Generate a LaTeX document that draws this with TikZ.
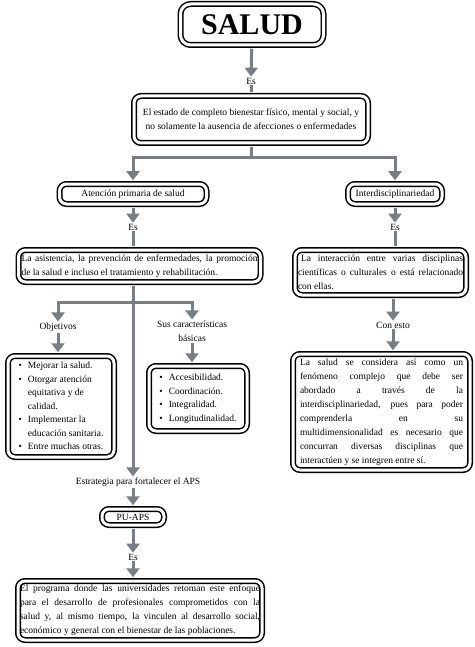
\documentclass[tikz,border=0pt]{standalone}
\usepackage{fontspec}
\setmainfont{Liberation Serif}
\usepackage{tikz}
\usetikzlibrary{positioning, arrows.meta}
\definecolor{grisFlecha}{RGB}{120,126,133}
\tikzstyle{Caja} = [rectangle, rounded corners=7pt, draw=black, line width=1.5pt, double=white, double distance=3pt, inner sep=3pt, font=\fontsize{9.5}{14}\selectfont]
\tikzstyle{Lista} = [Caja, font=\fontsize{9.5}{13.5}\selectfont]
\tikzstyle{Texto} = [inner sep=1pt, align=center, font=\fontsize{9.5}{14}\selectfont]
\tikzstyle{Flecha} = [draw=grisFlecha, line width=3pt, -{Triangle[length=9pt, width=13pt]}]
\tikzstyle{Linea} = [draw=grisFlecha, line width=3pt]

\begin{document}
\begin{tikzpicture}[x=1pt, y=-1pt]
    \useasboundingbox (0,0) rectangle (474,647);

    %%%%%%%%%%%%%%%%%%%%%%
    \node[Caja, rounded corners=10pt, minimum width=143pt, minimum height=41pt, font=\fontsize{30}{32}\selectfont\bfseries] (salud) at (252,24.5) {SALUD};
    \node[Texto] (es1) at (251,81) {Es};
    \node[Caja, align=center, minimum width=234pt, minimum height=47pt] (estado) at (251,119.5) {El estado de completo bienestar físico, mental y social, y\\ no solamente la ausencia de afecciones o enfermedades};
    \coordinate (rama1) at (251,158);

    \draw[Flecha, shorten <=3pt] (salud) to (es1);
    \draw[Linea, shorten >=3pt] (es1) to (estado);
    \draw[Linea, shorten <=3pt] (estado) to (rama1);

    %%%%%%%%%%%%%%%%%%%%%%
    \node[Caja, minimum width=147pt, minimum height=20pt] (aps) at (133,194) {Atención primaria de salud};
    \node[Caja, minimum width=94pt, minimum height=20pt] (inter) at (395,194) {Interdisciplinariedad};
    \node[Texto] (es2) at (133,227) {Es};
    \node[Texto] (es3) at (395,227) {Es};

    \draw[Flecha, shorten >=3pt] (rama1) -| (aps);
    \draw[Flecha, shorten >=3pt] (rama1) -| (inter);
    \draw[Flecha, shorten <=3pt] (aps) to (es2);
    \draw[Flecha, shorten <=3pt] (inter) to (es3);

    %%%%%%%%%%%%%%%%%%%%%%
    \node[Caja, text width=236pt, align=justify, minimum height=32pt] (asist) at (139.5,266) {La asistencia, la prevención de enfermedades, la promoción\linebreak de la salud e incluso el tratamiento y rehabilitación.};
    \node[Caja, text width=165pt, align=justify, minimum height=45pt] (interac) at (380.5,272.5) {\hspace{3pt}La interacción entre varias disciplinas\linebreak científicas o culturales o está relacionado\linebreak con ellas.};

    \draw[Linea, shorten >=3pt] (es2) to (es2 |- asist.north);
    \draw[Linea, shorten >=3pt] (es3) to (es3 |- interac.north);

    %%%%%%%%%%%%%%%%%%%%%%
    \coordinate (rama2) at (133,302);
    \node[Texto] (objetivos) at (58,327) {Objetivos};
    \node[Texto] (caract) at (192,331) {Sus características\\básicas};
    \node[Lista, minimum width=106pt, minimum height=101pt] (objbox) at (61,406.5) {%
        \begin{tabular}{@{}c@{\hspace{6pt}}l@{}}
        \textbullet & Mejorar la salud.\\
        \textbullet & Otorgar atención\\
         & equitativa y de\\
         & calidad.\\
        \textbullet & Implementar la\\
         & educación sanitaria.\\
        \textbullet & Entre muchas otras.
        \end{tabular}};
    \node[Lista, minimum width=98pt, minimum height=65pt] (carbox) at (198,398.5) {%
        \begin{tabular}{@{}c@{\hspace{6pt}}l@{}}
        \textbullet & Accesibilidad.\\
        \textbullet & Coordinación.\\
        \textbullet & Integralidad.\\
        \textbullet & Longitudinalidad.
        \end{tabular}};

    \draw[Linea, shorten <=3pt] (asist.south -| rama2) to (rama2);
    \draw[Flecha] (rama2) -| (objetivos);
    \draw[Flecha] (rama2) -| (caract);
    \draw[Flecha, shorten >=3pt] (objetivos) to (objetivos |- objbox.north);
    \draw[Flecha, shorten >=3pt] (caract) to (caract |- carbox.north);

    %%%%%%%%%%%%%%%%%%%%%%
    \node[Texto] (conesto) at (393,325) {Con esto};
    \node[Caja, text width=163pt, inner xsep=7pt, align=justify, minimum height=116pt] (conbox) at (381.5,412) {La salud se considera así como un\linebreak fenómeno complejo que debe ser\linebreak abordado a través de la\linebreak interdisciplinariedad, pues para poder\linebreak comprenderla en su\linebreak multidimensionalidad es necesario que\linebreak concurran diversas disciplinas que\linebreak interactúen y se integren entre sí.};

    \draw[Flecha, shorten <=3pt] (interac.south -| conesto) to (conesto);
    \draw[Flecha, shorten >=3pt] (conesto) to (conesto |- conbox.north);

    %%%%%%%%%%%%%%%%%%%%%%
    \node[Texto] (estrategia) at (138,482) {Estrategia para fortalecer el APS};
    \node[Caja, minimum width=62pt, minimum height=16pt, inner sep=1pt] (puaps) at (133,517) {PU-APS};
    \node[Texto] (es4) at (133,557) {Es};
    \node[Caja, text width=240pt, inner xsep=2pt, align=justify, minimum height=59pt] (final) at (140,610.5) {El programa donde las universidades retoman este enfoque\linebreak para el desarrollo de profesionales comprometidos con la\linebreak salud y, al mismo tiempo, la vinculen al desarrollo social,\linebreak económico y general con el bienestar de las poblaciones.};

    \draw[Flecha] (rama2) to (rama2 |- estrategia.north);
    \draw[Flecha, shorten >=3pt] (estrategia.south -| puaps) to (puaps);
    \draw[Flecha, shorten <=3pt] (puaps) to (es4);
    \draw[Flecha, shorten >=3pt] (es4) to (es4 |- final.north);

\end{tikzpicture}
\end{document}
